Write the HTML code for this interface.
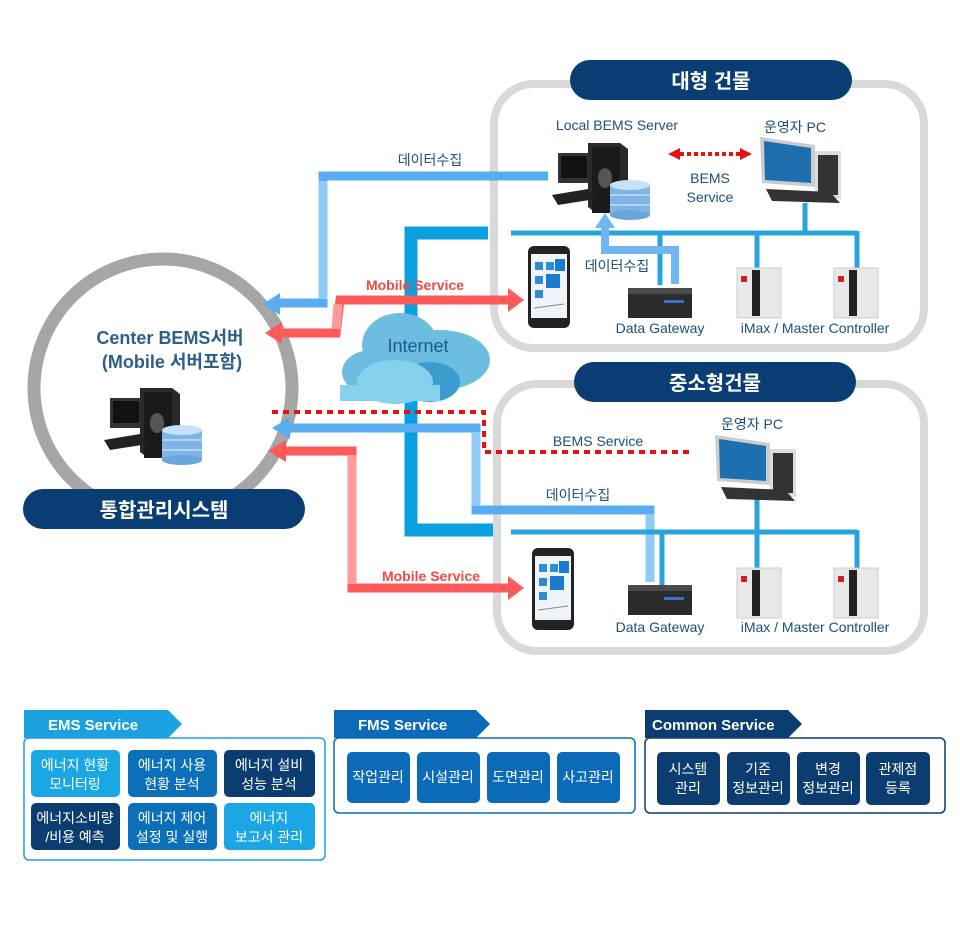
<!DOCTYPE html>
<html><head><meta charset="utf-8"><style>
html,body{margin:0;padding:0;background:#fff;}
svg{display:block;font-family:"Liberation Sans","Noto Sans CJK KR",sans-serif;}
</style></head><body>
<svg width="960" height="936" viewBox="0 0 960 936" xmlns="http://www.w3.org/2000/svg">
<defs>
<g id="server">
  <rect x="0" y="10" width="32" height="30" fill="#333"/><rect x="3" y="13" width="26" height="22" fill="#111"/>
  <polygon points="30,0 62,0 70,6 70,70 38,70 30,64" fill="#2a2a2a"/><rect x="34" y="4" width="28" height="66" fill="#1a1a1a"/>
  <ellipse cx="47" cy="35" rx="7" ry="10" fill="#555"/>
  <polygon points="-6,52 30,46 38,56 0,62" fill="#222"/>
  <rect x="52" y="42" width="40" height="30" fill="#7fb5e6"/><ellipse cx="72" cy="42" rx="20" ry="5" fill="#c5e2fa"/>
  <ellipse cx="72" cy="72" rx="20" ry="5" fill="#6aa5dc"/><line x1="52" y1="52" x2="92" y2="52" stroke="#e6f2fd"/><line x1="52" y1="62" x2="92" y2="62" stroke="#e6f2fd"/>
</g>
<g id="pc">
  <polygon points="0,0 55,8 55,50 2,46" fill="#ccc"/><polygon points="4,4 51,11 51,46 5,43" fill="#1d6fb0"/>
  <rect x="55" y="14" width="26" height="48" fill="#ddd"/><rect x="58" y="18" width="20" height="40" fill="#333"/>
  <polygon points="6,52 70,55 80,66 12,64" fill="#333"/>
</g>
<g id="phone">
  <rect x="0" y="0" width="42" height="82" rx="6" fill="#222"/><rect x="3" y="8" width="36" height="64" fill="#eef4fa"/>
  <rect x="7" y="16" width="8" height="8" fill="#2b8fd8"/><rect x="18" y="16" width="8" height="8" fill="#2b8fd8"/><rect x="27" y="13" width="10" height="12" fill="#1a7bd0"/>
  <rect x="7" y="30" width="8" height="8" fill="#2b8fd8"/><rect x="18" y="28" width="14" height="14" fill="#1a7bd0"/>
  <rect x="7" y="44" width="8" height="8" fill="#2b8fd8"/><line x1="6" y1="62" x2="36" y2="58" stroke="#888"/>
</g>
<g id="gw">
  <rect x="0" y="0" width="64" height="30" fill="#2b2b2b"/><rect x="0" y="0" width="64" height="6" fill="#4a4a4a"/>
  <rect x="36" y="12" width="20" height="3" fill="#3a6fd0"/>
</g>
<g id="ctl">
  <rect x="0" y="0" width="44" height="50" fill="#e8e8e8" stroke="#ccc"/><rect x="15" y="2" width="8" height="46" fill="#222"/>
  <rect x="4" y="8" width="6" height="6" fill="#d02020"/>
</g>
</defs>

<!-- building boxes -->
<rect x="494" y="84" width="430" height="264" rx="40" fill="#fff" stroke="#d9d9d9" stroke-width="8"/>
<rect x="497" y="384" width="427" height="267" rx="40" fill="#fff" stroke="#d9d9d9" stroke-width="8"/>

<!-- center circle -->
<circle cx="163" cy="388" r="129" fill="#fff" stroke="#a6a6a6" stroke-width="13"/>

<!-- internet thick line -->
<polyline points="488,233 411,233 411,360" fill="none" stroke="#0aa0e0" stroke-width="13"/>
<polyline points="411,360 411,530 493,530" fill="none" stroke="#0aa0e0" stroke-width="13"/>

<!-- top blue data line -->
<polyline points="548,176 323,176 323,303 280,303" fill="none" stroke="#5aacf0" stroke-width="9"/>
<line x1="323" y1="181" x2="323" y2="299" stroke="#90cbf8" stroke-width="9"/>
<polygon points="263,304 280,293 280,315" fill="#5aacf0"/>
<!-- top red mobile -->
<polyline points="510,300 340,300 336,333 282,333" fill="none" stroke="#ff5a5a" stroke-width="9"/>
<line x1="338" y1="304" x2="336" y2="329" stroke="#ff9a9a" stroke-width="9"/>
<polygon points="265,333 282,322 282,344" fill="#ff5a5a"/>
<polygon points="524,300 508,288 508,312" fill="#ff5a5a"/>

<!-- red dotted lower -->
<polyline points="272,412 484,412 484,452 694,452" fill="none" stroke="#e81010" stroke-width="4" stroke-dasharray="6,5"/>
<!-- blue lower data -->
<polyline points="290,428 476,428 476,510 650,510 650,582" fill="none" stroke="#5aacf0" stroke-width="9"/>
<line x1="476" y1="432" x2="476" y2="506" stroke="#90cbf8" stroke-width="9"/>
<line x1="650" y1="514" x2="650" y2="582" stroke="#90cbf8" stroke-width="9"/>
<polygon points="272,428 290,417 290,439" fill="#5aacf0"/>
<!-- red lower -->
<polyline points="285,451 352,451 352,588 508,588" fill="none" stroke="#ff5a5a" stroke-width="9"/>
<line x1="352" y1="455" x2="352" y2="584" stroke="#ff9a9a" stroke-width="9"/>
<polygon points="268,451 286,440 286,462" fill="#ff5a5a"/>
<polygon points="524,588 508,576 508,600" fill="#ff5a5a"/>

<!-- cloud -->
<g>
<ellipse cx="440" cy="360" rx="50" ry="30" fill="#6cbde0"/>
<ellipse cx="400" cy="345" rx="38" ry="32" fill="#6cbde0"/>
<ellipse cx="372" cy="372" rx="30" ry="22" fill="#6cbde0"/>
<ellipse cx="430" cy="382" rx="30" ry="20" fill="#3a9ccf"/>
<ellipse cx="395" cy="382" rx="38" ry="22" fill="#86d2ec"/>
<rect x="340" y="385" width="100" height="16" fill="#86d2ec"/>
<text x="418" y="352" font-size="18" fill="#1d5a8a" text-anchor="middle">Internet</text>
</g>

<!-- top building internals -->
<polyline points="511,233 857,233" stroke="#29a3dc" stroke-width="5" fill="none"/>
<line x1="660" y1="233" x2="660" y2="285" stroke="#29a3dc" stroke-width="5"/>
<line x1="757" y1="233" x2="757" y2="268" stroke="#29a3dc" stroke-width="5"/>
<line x1="857" y1="231" x2="857" y2="268" stroke="#29a3dc" stroke-width="5"/>
<line x1="805" y1="203" x2="805" y2="233" stroke="#29a3dc" stroke-width="5"/>
<polyline points="675,284 675,250 605,250 605,226" fill="none" stroke="#6fb6f2" stroke-width="8"/>
<polygon points="605,213 595,228 615,228" fill="#6fb6f2"/>
<use href="#server" x="558" y="143"/>
<use href="#pc" x="760" y="137"/>
<line x1="680" y1="154" x2="740" y2="154" stroke="#e81010" stroke-width="4" stroke-dasharray="4,3"/>
<polygon points="668,154 680,148 680,160" fill="#e81010"/><polygon points="752,154 740,148 740,160" fill="#e81010"/>
<use href="#phone" x="528" y="246"/>
<use href="#gw" x="628" y="288"/>
<use href="#ctl" x="737" y="268"/>
<use href="#ctl" x="834" y="268"/>

<!-- bottom building internals -->
<line x1="511" y1="532" x2="857" y2="532" stroke="#29a3dc" stroke-width="5"/>
<line x1="662" y1="532" x2="662" y2="585" stroke="#29a3dc" stroke-width="5"/>
<line x1="757" y1="497" x2="757" y2="568" stroke="#29a3dc" stroke-width="5"/>
<line x1="857" y1="530" x2="857" y2="568" stroke="#29a3dc" stroke-width="5"/>
<use href="#pc" x="715" y="435"/>
<use href="#phone" x="532" y="548"/>
<use href="#gw" x="628" y="585"/>
<use href="#ctl" x="737" y="568"/>
<use href="#ctl" x="834" y="568"/>

<!-- center server -->
<use href="#server" x="110" y="388"/>

<!-- pills -->
<rect x="570" y="60" width="282" height="40" rx="20" fill="#0a3d73"/>
<text x="711" y="88" font-size="20" font-weight="bold" fill="#fff" text-anchor="middle">대형 건물</text>
<rect x="574" y="362" width="282" height="40" rx="20" fill="#0a3d73"/>
<text x="715" y="390" font-size="20" font-weight="bold" fill="#fff" text-anchor="middle">중소형건물</text>
<rect x="23" y="489" width="282" height="40" rx="20" fill="#0a3d73"/>
<text x="164" y="517" font-size="20" font-weight="bold" fill="#fff" text-anchor="middle">통합관리시스템</text>

<!-- labels -->
<g font-size="14" fill="#1d4f7a" text-anchor="middle">
<text x="617" y="130">Local BEMS Server</text>
<text x="795" y="132">운영자 PC</text>
<text x="710" y="183">BEMS</text>
<text x="710" y="202">Service</text>
<text x="430" y="165">데이터수집</text>
<text x="617" y="271">데이터수집</text>
<text x="660" y="333">Data Gateway</text>
<text x="815" y="333">iMax / Master Controller</text>
<text x="752" y="429">운영자 PC</text>
<text x="598" y="446">BEMS Service</text>
<text x="578" y="500">데이터수집</text>
<text x="660" y="632">Data Gateway</text>
<text x="815" y="632">iMax / Master Controller</text>
</g>
<g font-size="14" font-weight="bold" fill="#f04848" text-anchor="middle">
<text x="415" y="290">Mobile Service</text>
<text x="431" y="581">Mobile Service</text>
</g>
<g font-size="18" font-weight="bold" fill="#2d5f8a" text-anchor="middle">
<text x="170" y="344">Center BEMS서버</text>
<text x="172" y="368">(Mobile 서버포함)</text>
</g>

<!-- bottom services -->
<rect x="24" y="738" width="301" height="122" rx="5" fill="#fff" stroke="#1ba0e0" stroke-width="1.5"/>
<polygon points="24,710 168,710 182,724 168,738 24,738" fill="#1ba0e0"/>
<text x="48" y="730" font-size="15" font-weight="bold" fill="#fff">EMS Service</text>
<rect x="334" y="738" width="301" height="75" rx="5" fill="#fff" stroke="#0b6bb8" stroke-width="1.5"/>
<polygon points="334,710 476,710 490,724 476,738 334,738" fill="#0b6bb8"/>
<text x="358" y="730" font-size="15" font-weight="bold" fill="#fff">FMS Service</text>
<rect x="645" y="738" width="300" height="75" rx="5" fill="#fff" stroke="#0b3d70" stroke-width="1.5"/>
<polygon points="645,710 788,710 802,724 788,738 645,738" fill="#0b3d70"/>
<text x="652" y="730" font-size="15" font-weight="bold" fill="#fff">Common Service</text>

<g font-size="14" fill="#fff" text-anchor="middle">
<rect x="31" y="750" width="89" height="47" rx="5" fill="#1aa7e3"/><text x="75" y="770">에너지 현황</text><text x="75" y="789">모니터링</text>
<rect x="128" y="750" width="89" height="47" rx="5" fill="#0b6fba"/><text x="172" y="770">에너지 사용</text><text x="172" y="789">현황 분석</text>
<rect x="224" y="750" width="91" height="47" rx="5" fill="#0b3d70"/><text x="269" y="770">에너지 설비</text><text x="269" y="789">성능 분석</text>
<rect x="31" y="803" width="89" height="47" rx="5" fill="#0b3d70"/><text x="75" y="823">에너지소비량</text><text x="75" y="842">/비용 예측</text>
<rect x="128" y="803" width="89" height="47" rx="5" fill="#0b6fba"/><text x="172" y="823">에너지 제어</text><text x="172" y="842">설정 및 실행</text>
<rect x="224" y="803" width="91" height="47" rx="5" fill="#1aa7e3"/><text x="269" y="823">에너지</text><text x="269" y="842">보고서 관리</text>

<rect x="347" y="752" width="63" height="51" rx="5" fill="#0b6bb8"/><text x="378" y="782">작업관리</text>
<rect x="417" y="752" width="63" height="51" rx="5" fill="#0b6bb8"/><text x="448" y="782">시설관리</text>
<rect x="487" y="752" width="63" height="51" rx="5" fill="#0b6bb8"/><text x="518" y="782">도면관리</text>
<rect x="557" y="752" width="63" height="51" rx="5" fill="#0b6bb8"/><text x="588" y="782">사고관리</text>

<rect x="657" y="752" width="63" height="53" rx="5" fill="#0b3d70"/><text x="688" y="774">시스템</text><text x="688" y="793">관리</text>
<rect x="727" y="752" width="63" height="53" rx="5" fill="#0b3d70"/><text x="758" y="774">기준</text><text x="758" y="793">정보관리</text>
<rect x="797" y="752" width="63" height="53" rx="5" fill="#0b3d70"/><text x="828" y="774">변경</text><text x="828" y="793">정보관리</text>
<rect x="866" y="752" width="64" height="53" rx="5" fill="#0b3d70"/><text x="898" y="774">관제점</text><text x="898" y="793">등록</text>
</g>
</svg>
</body></html>
